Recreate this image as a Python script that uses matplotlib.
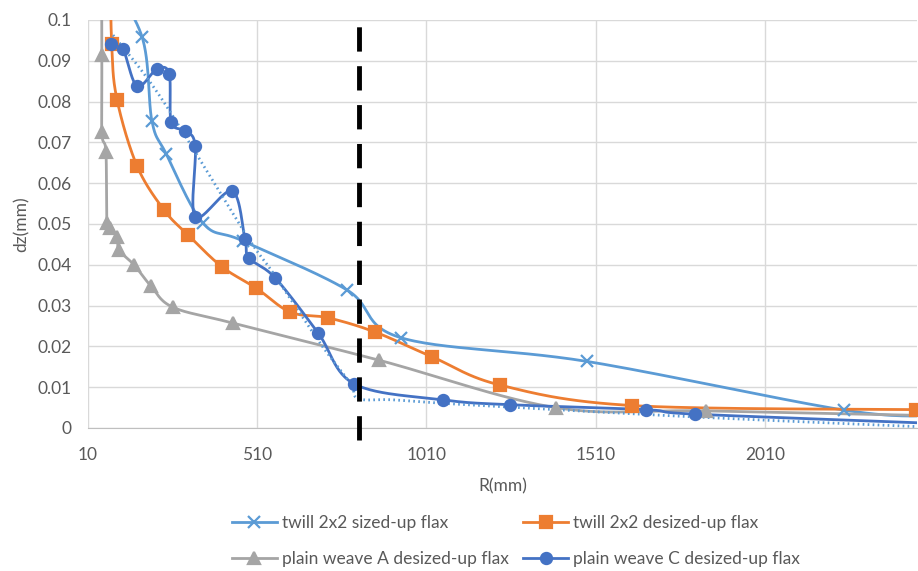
import numpy as np
import matplotlib.pyplot as plt

# series (R in mm, dz in mm)
twill_sized_r = [60, 170, 199, 241, 350, 469, 776, 936, 1486, 2244, 2520]
twill_sized_dz = [0.112, 0.0958, 0.0752, 0.0672, 0.0502, 0.0458, 0.0338, 0.0221, 0.0163, 0.0044, 0.0030]

twill_desized_r = [74, 80, 96, 155, 235, 306, 406, 507, 608, 720, 859, 1028, 1229, 1619, 2457]
twill_desized_dz = [0.12, 0.094, 0.0804, 0.0642, 0.0534, 0.0473, 0.0395, 0.0343, 0.0284, 0.0270,
                    0.0235, 0.0174, 0.0105, 0.0055, 0.0045]

plain_a_r = [50, 51, 51, 63, 66, 75, 96, 102, 146, 196, 261, 439, 871, 1392, 1835, 2520]
plain_a_dz = [0.12, 0.0914, 0.0725, 0.0677, 0.0502, 0.0490, 0.0468, 0.0436, 0.0400, 0.0348,
              0.0296, 0.0257, 0.0166, 0.0050, 0.0042, 0.0030]

plain_c_r = [78, 113, 155, 214, 250, 256, 297, 327, 327, 436, 474, 486, 563, 690, 797,
             1060, 1258, 1658, 1803, 2520]
plain_c_dz = [0.0941, 0.0929, 0.0838, 0.0880, 0.0868, 0.0750, 0.0728, 0.0691, 0.0517, 0.0581,
              0.0463, 0.0417, 0.0368, 0.0233, 0.0108, 0.0069, 0.0057, 0.0045, 0.0034, 0.0011]

# dotted trend of plain weave C
trend_r = [84, 226, 474, 557, 696, 785, 809, 912, 1110, 1806, 2500]
trend_dz = [0.0963, 0.0809, 0.0478, 0.0380, 0.0208, 0.0110, 0.0072, 0.0069, 0.0058, 0.0027, 0.0002]

limit_r = 810

x_ticks = [10, 510, 1010, 1510, 2010]
y_ticks = [0, 0.01, 0.02, 0.03, 0.04, 0.05, 0.06, 0.07, 0.08, 0.09, 0.1]
y_labels = ['0', '0.01', '0.02', '0.03', '0.04', '0.05', '0.06', '0.07', '0.08', '0.09', '0.1']

XMIN, XMAX = 10, 2460

# rough pixel scale of the plot box, used so smoothing looks like excel's
sx = 829 / (XMAX - XMIN)
sy = 408 / 0.1


def smooth(xs, ys, n=30):
    # catmull-rom through the points, done in screen-like units
    p = np.column_stack([np.asarray(xs, float) * sx, np.asarray(ys, float) * sy])
    p = np.vstack([p[0], p, p[-1]])
    out = []
    t = np.linspace(0, 1, n)[:, None]
    for i in range(1, len(p) - 2):
        p0, p1, p2, p3 = p[i - 1], p[i], p[i + 1], p[i + 2]
        c1 = p1 + (p2 - p0) / 6
        c2 = p2 - (p3 - p1) / 6
        seg = ((1 - t) ** 3) * p1 + 3 * ((1 - t) ** 2) * t * c1 + 3 * (1 - t) * t ** 2 * c2 + t ** 3 * p2
        out.append(seg)
    out = np.vstack(out)
    return out[:, 0] / sx, out[:, 1] / sy


plt.rcParams['font.family'] = ['Lato', 'DejaVu Sans']
txt = '#595959'
fs = 12.5

fig = plt.figure(figsize=(9.18, 5.71), dpi=100)
ax = fig.add_axes([88 / 918, 1 - 428 / 571, 829 / 918, 408 / 571])

series = [
    (twill_sized_r, twill_sized_dz, '#5B9BD5', 'x', 9, 'twill 2x2 sized-up flax'),
    (twill_desized_r, twill_desized_dz, '#ED7D31', 's', 8, 'twill 2x2 desized-up flax'),
    (plain_a_r, plain_a_dz, '#A5A5A5', '^', 8, 'plain weave A desized-up flax'),
    (plain_c_r, plain_c_dz, '#4472C4', 'o', 8, 'plain weave C desized-up flax'),
]

handles = []
for r, dz, col, mk, ms, lab in series:
    xs, ys = smooth(r, dz)
    ax.plot(xs, ys, color=col, lw=2, zorder=3)
    ax.plot(r, dz, ls='none', marker=mk, ms=ms, color=col, mec=col, mew=1.6, zorder=4)
    h, = ax.plot([], [], color=col, lw=2, marker=mk, ms=ms, mec=col, mew=1.6, label=lab)
    handles.append(h)

tx, ty = smooth(trend_r, trend_dz)
ax.plot(tx, ty, color='#5B9BD5', lw=2, ls=(0, (0.6, 1.2)), zorder=3)

ax.plot([limit_r, limit_r], [-0.003, 0.1], color='black', lw=3.5, ls=(0, (5, 3)),
        clip_on=False, zorder=5)

ax.set_xlim(XMIN, XMAX)
ax.set_ylim(0, 0.1)
ax.set_xticks(x_ticks)
ax.set_yticks(y_ticks)
ax.set_yticklabels(y_labels)
ax.grid(True, color='#D9D9D9', lw=1)
ax.set_axisbelow(True)
for s in ['top', 'right', 'left']:
    ax.spines[s].set_visible(False)
ax.spines['bottom'].set_color('#BFBFBF')
ax.tick_params(length=0, labelsize=fs, colors=txt)
ax.tick_params(axis='x', pad=14)
ax.tick_params(axis='y', pad=12)

ax.set_xlabel('R(mm)', fontsize=fs, color=txt, labelpad=11)
ax.set_ylabel('dz(mm)', fontsize=fs, color=txt, labelpad=5)

# legend fills by column, so order handles to get excel's row layout
leg_order = [handles[0], handles[2], handles[1], handles[3]]
fig.legend(handles=leg_order, loc='center', bbox_to_anchor=(516 / 918, 1 - 541 / 571), ncol=2,
           frameon=False, fontsize=fs, labelcolor=txt, handlelength=2.6, columnspacing=0.8,
           handletextpad=0.3, labelspacing=1.2)

fig.savefig('out.png', dpi=100)
